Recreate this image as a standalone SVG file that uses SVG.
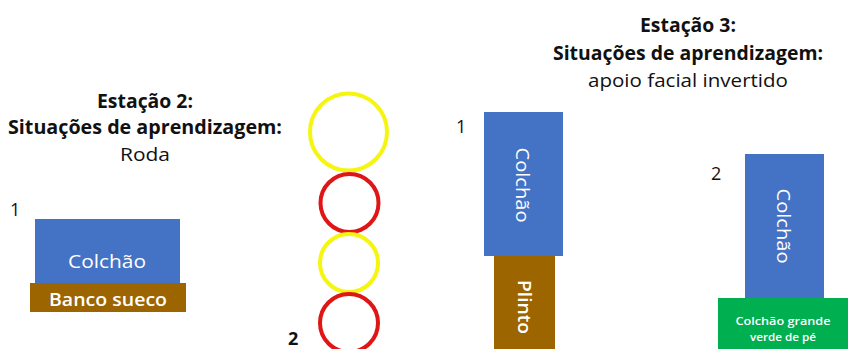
<svg xmlns="http://www.w3.org/2000/svg" width="848" height="349" viewBox="0 0 848 349">
<style>
text{font-family:"Open Sans","Liberation Sans",sans-serif;}
.t{font-size:19px;fill:#111;text-anchor:middle;}
.b{font-weight:bold;}
.n{font-size:18px;fill:#111;}
.w{fill:#fff;text-anchor:middle;}
.ring{fill:none;stroke-width:4;}
</style>
<rect width="848" height="349" fill="#fff"/>
<g id="title2">
<text class="t b" x="145" y="108" textLength="96" lengthAdjust="spacingAndGlyphs">Estação 2:</text>
<text class="t b" x="145" y="134" textLength="274" lengthAdjust="spacingAndGlyphs">Situações de aprendizagem:</text>
<text class="t" x="145" y="161" textLength="50" lengthAdjust="spacingAndGlyphs">Roda</text>
</g>
<g id="st2-1">
<text class="n" x="10" y="216">1</text>
<rect x="35" y="219" width="145" height="64" fill="#4472C4"/>
<text class="w" x="107" y="268" font-size="19" textLength="78" lengthAdjust="spacingAndGlyphs">Colchão</text>
</g>
<g id="banco">
<rect x="30" y="283" width="156" height="29" fill="#9C6500"/>
<text class="w" x="108" y="306" font-size="18" font-weight="600" textLength="118" lengthAdjust="spacingAndGlyphs">Banco sueco</text>
</g>
<g id="rings">
<circle class="ring" cx="348.5" cy="132" r="38.5" stroke="#F5F50F"/>
<circle class="ring" cx="349.5" cy="203" r="29" stroke="#E01515"/>
<circle class="ring" cx="349" cy="263" r="29" stroke="#F5F50F"/>
<circle class="ring" cx="349" cy="323" r="29" stroke="#E01515"/>
</g>
<g id="st2-2"><text class="n b" x="288" y="345">2</text></g>
<g id="title3">
<text class="t b" x="688" y="32" textLength="96" lengthAdjust="spacingAndGlyphs">Estação 3:</text>
<text class="t b" x="688" y="60" textLength="270" lengthAdjust="spacingAndGlyphs">Situações de aprendizagem:</text>
<text class="t" x="688" y="87" textLength="200" lengthAdjust="spacingAndGlyphs">apoio facial invertido</text>
</g>
<g id="st3-1">
<text class="n" x="456" y="133">1</text>
<rect x="484" y="112" width="79" height="144" fill="#4472C4"/>
<text class="w" transform="translate(516,185) rotate(90)" font-size="19" textLength="75" lengthAdjust="spacingAndGlyphs">Colchão</text>
</g>
<g id="plinto">
<rect x="494" y="256" width="61" height="93" fill="#9C6500"/>
<text class="w" transform="translate(518,307) rotate(90)" font-size="18" font-weight="600" textLength="54" lengthAdjust="spacingAndGlyphs">Plinto</text>
</g>
<g id="st3-2">
<text class="n" x="711" y="180">2</text>
<rect x="745" y="154" width="79" height="144" fill="#4472C4"/>
<text class="w" transform="translate(777,226) rotate(90)" font-size="19" textLength="75" lengthAdjust="spacingAndGlyphs">Colchão</text>
</g>
<g id="verde">
<rect x="718" y="298" width="130" height="51" fill="#00B050"/>
<text class="w" x="783" y="325" font-size="11.5" font-weight="600" textLength="95" lengthAdjust="spacingAndGlyphs">Colchão grande</text>
<text class="w" x="783" y="341" font-size="11.5" font-weight="600" textLength="66" lengthAdjust="spacingAndGlyphs">verde de pé</text>
</g>
</svg>
